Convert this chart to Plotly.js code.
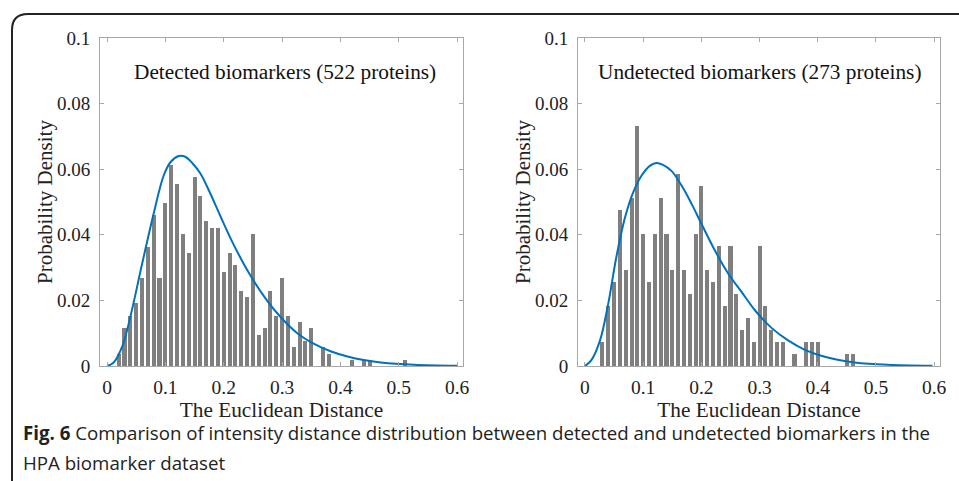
<!DOCTYPE html>
<html>
<head>
<meta charset="utf-8">
<script src="https://cdn.plot.ly/plotly-3.0.1.min.js"></script>
<style>
  html, body { margin: 0; padding: 0; background: #ffffff; }
  #chart { width: 959px; height: 481px; }
</style>
</head>
<body>
<div id="chart"></div>
<script>
// ---- Data ----
// Bin centres and heights (fraction of proteins per 0.01 bin)
const detectedBins = [0.02,0.03,0.04,0.05,0.06,0.07,0.08,0.09,0.10,0.11,0.12,0.13,0.14,0.15,0.16,0.17,0.18,0.19,0.20,0.21,0.22,0.23,0.24,0.25,0.26,0.27,0.28,0.29,0.30,0.31,0.32,0.33,0.34,0.35,0.37,0.38,0.42,0.44,0.45,0.51];
const detectedHeights = [0.0038,0.0115,0.0153,0.0192,0.0268,0.0364,0.0460,0.0268,0.0498,0.0613,0.0556,0.0402,0.0345,0.0575,0.0517,0.0441,0.0421,0.0421,0.0287,0.0345,0.0307,0.0230,0.0211,0.0402,0.0096,0.0115,0.0230,0.0153,0.0268,0.0153,0.0057,0.0134,0.0077,0.0115,0.0057,0.0038,0.0019,0.0019,0.0019,0.0019];

const undetectedBins = [0.03,0.04,0.05,0.06,0.07,0.08,0.09,0.10,0.11,0.12,0.13,0.14,0.15,0.16,0.17,0.18,0.19,0.20,0.21,0.22,0.23,0.24,0.25,0.26,0.27,0.28,0.29,0.30,0.31,0.32,0.33,0.34,0.36,0.38,0.39,0.40,0.45,0.46];
const undetectedHeights = [0.0073,0.0183,0.0256,0.0476,0.0293,0.0513,0.0733,0.0403,0.0256,0.0403,0.0513,0.0403,0.0293,0.0586,0.0293,0.0220,0.0403,0.0549,0.0293,0.0256,0.0366,0.0183,0.0366,0.0220,0.0110,0.0147,0.0073,0.0366,0.0183,0.0110,0.0073,0.0073,0.0037,0.0073,0.0073,0.0073,0.0037,0.0037];

// Fitted density curves
const detectedCurveX = [0.000,0.011,0.026,0.040,0.060,0.080,0.097,0.109,0.123,0.134,0.146,0.160,0.177,0.194,0.217,0.245,0.274,0.297,0.326,0.354,0.383,0.412,0.440,0.469,0.526,0.600];
const detectedCurveY = [0.0000,0.0010,0.0059,0.0150,0.0310,0.0465,0.0580,0.0622,0.0640,0.0638,0.0619,0.0587,0.0526,0.0458,0.0370,0.0278,0.0200,0.0150,0.0100,0.0068,0.0045,0.0029,0.0018,0.0011,0.0004,0.0001];

const undetectedCurveX = [0.000,0.011,0.026,0.040,0.054,0.069,0.083,0.097,0.112,0.123,0.134,0.149,0.166,0.183,0.200,0.223,0.246,0.269,0.292,0.320,0.349,0.377,0.406,0.434,0.463,0.520,0.597];
const undetectedCurveY = [0.0000,0.0018,0.0079,0.0190,0.0333,0.0454,0.0530,0.0580,0.0611,0.0619,0.0613,0.0594,0.0550,0.0495,0.0434,0.0353,0.0282,0.0226,0.0170,0.0117,0.0078,0.0050,0.0031,0.0019,0.0011,0.0004,0.0001];

const xTickVals = [0,0.1,0.2,0.3,0.4,0.5,0.6];
const panelTitles = ["Detected biomarkers (522 proteins)", "Undetected biomarkers (273 proteins)"];
const xTitle = "The Euclidean Distance";
const yTitle = "Probability Density";
const captionBold = "Fig. 6";
const captionLine1 = " Comparison of intensity distance distribution between detected and undetected biomarkers in the";
const captionLine2 = "HPA biomarker dataset";

// ---- Styling ----
const W = 959, H = 481;
const serif = "Liberation Serif, Times New Roman, serif";
const sans = "Open Sans, Noto Sans, sans-serif";
const barColor = "#7f7f7f";
const lineColor = "#0072BD";
const frameColor = "#a8a8a8";
const px = v => v / W;
const py = v => 1 - v / H;

const traces = [
  { type: "bar", x: detectedBins, y: detectedHeights, width: 0.007,
    marker: { color: barColor, line: { width: 0 } }, xaxis: "x", yaxis: "y" },
  { type: "scatter", mode: "lines", x: detectedCurveX, y: detectedCurveY,
    line: { color: lineColor, width: 2, shape: "spline", smoothing: 1 }, xaxis: "x", yaxis: "y" },
  { type: "bar", x: undetectedBins, y: undetectedHeights, width: 0.007,
    marker: { color: barColor, line: { width: 0 } }, xaxis: "x2", yaxis: "y2" },
  { type: "scatter", mode: "lines", x: undetectedCurveX, y: undetectedCurveY,
    line: { color: lineColor, width: 2, shape: "spline", smoothing: 1 }, xaxis: "x2", yaxis: "y2" }
];

function xAxis(domain, anchor) {
  return {
    domain: domain, anchor: anchor, range: [-0.012, 0.61],
    tickvals: xTickVals, ticks: "inside", ticklen: 4, tickcolor: frameColor,
    showline: true, linecolor: frameColor, linewidth: 1, mirror: "ticks",
    showgrid: false, zeroline: false,
    tickfont: { family: serif, size: 19.5, color: "#222" },
    ticklabelstandoff: 4,
    title: { text: xTitle, font: { family: serif, size: 21.3, color: "#222" }, standoff: 3 }
  };
}
function yAxis(domain, anchor) {
  return {
    domain: domain, anchor: anchor, range: [0, 0.1],
    dtick: 0.02, tick0: 0, ticks: "inside", ticklen: 4, tickcolor: frameColor,
    showline: true, linecolor: frameColor, linewidth: 1, mirror: "ticks",
    showgrid: false, zeroline: false,
    tickfont: { family: serif, size: 19, color: "#222" },
    ticklabelstandoff: 5
  };
}

const yDom = [py(366), py(38)];
const layout = {
  width: W, height: H,
  margin: { l: 0, r: 0, t: 0, b: 0 },
  paper_bgcolor: "#ffffff", plot_bgcolor: "#ffffff",
  showlegend: false,
  bargap: 0,
  xaxis: xAxis([px(100), px(463)], "y"),
  yaxis: yAxis(yDom, "x"),
  xaxis2: xAxis([px(578), px(940)], "y2"),
  yaxis2: yAxis(yDom, "x2"),
  annotations: [
    { xref: "paper", yref: "paper", x: px(285), y: py(72), xanchor: "center", yanchor: "middle",
      text: panelTitles[0], showarrow: false, font: { family: serif, size: 21.3, color: "#111" } },
    { xref: "paper", yref: "paper", x: px(760), y: py(72), xanchor: "center", yanchor: "middle",
      text: panelTitles[1], showarrow: false, font: { family: serif, size: 21.3, color: "#111" } },
    { xref: "paper", yref: "paper", x: px(45), y: py(202), xanchor: "center", yanchor: "middle",
      textangle: -90, text: yTitle, showarrow: false, font: { family: serif, size: 21, color: "#222" } },
    { xref: "paper", yref: "paper", x: px(523), y: py(202), xanchor: "center", yanchor: "middle",
      textangle: -90, text: yTitle, showarrow: false, font: { family: serif, size: 21, color: "#222" } },
    { xref: "paper", yref: "paper", x: px(21), y: py(432), xanchor: "left", yanchor: "middle",
      text: "<b>" + captionBold + "</b>" + captionLine1, showarrow: false,
      font: { family: sans, size: 18.7, color: "#222" } },
    { xref: "paper", yref: "paper", x: px(21), y: py(462), xanchor: "left", yanchor: "middle",
      text: captionLine2, showarrow: false,
      font: { family: sans, size: 18.7, color: "#222" } }
  ],
  shapes: [
    { type: "path", xref: "paper", yref: "paper",
      path: "M " + px(12) + "," + py(490) + " L " + px(12) + "," + py(30) +
            " Q " + px(12) + "," + py(14) + " " + px(28) + "," + py(14) +
            " L " + px(970) + "," + py(14),
      line: { color: "#222", width: 2 } }
  ]
};

Plotly.newPlot("chart", traces, layout, { staticPlot: true, displayModeBar: false });
</script>
</body>
</html>
